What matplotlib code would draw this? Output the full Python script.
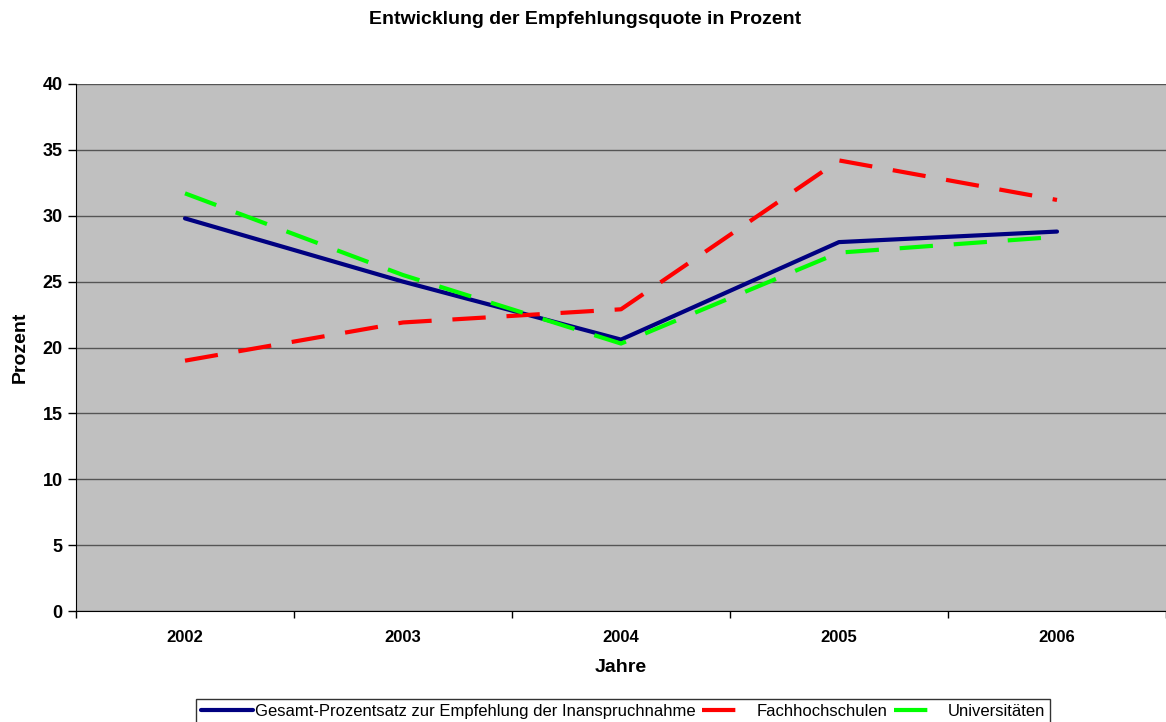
import numpy as np
import matplotlib.pyplot as plt

plt.rcParams['font.family'] = ['Liberation Sans', 'DejaVu Sans']

years = ["2002", "2003", "2004", "2005", "2006"]
gesamt = [29.8, 25.0, 20.6, 28.0, 28.8]
fachhochschulen = [19.0, 21.9, 22.9, 34.2, 31.2]
universitaeten = [31.7, 25.5, 20.3, 27.2, 28.4]

x = np.arange(len(years))

fig = plt.figure(figsize=(11.66, 7.22), dpi=100)
ax = fig.add_axes([76 / 1166, 1 - 611 / 722, 1 - 76 / 1166, (611 - 84) / 722])
ax.set_facecolor("#c0c0c0")

ax.plot(x, gesamt, color="#000080", lw=3, solid_capstyle="round",
        label="Gesamt-Prozentsatz zur Empfehlung der Inanspruchnahme")
ax.plot(x, fachhochschulen, color="#ff0000", lw=3, dashes=(8, 5),
        label="Fachhochschulen")
ax.plot(x, universitaeten, color="#00ff00", lw=3, dashes=(8, 5),
        label="Universitäten")

ax.set_xlim(-0.5, len(years) - 0.5)
ax.set_ylim(0, 40)
ax.set_yticks(range(0, 41, 5))
ax.yaxis.grid(True, color="#555555", lw=1)
ax.set_axisbelow(True)
ax.tick_params(axis="y", labelsize=13, length=6, width=1)
for lab in ax.get_yticklabels():
    lab.set_fontweight("bold")

ax.set_xticks(x)
ax.set_xticklabels(years, fontsize=12, fontweight="bold")
ax.set_xticks(np.arange(-0.5, len(years)), minor=True)
ax.tick_params(axis="x", which="major", length=0, pad=14)
ax.tick_params(axis="x", which="minor", length=5, width=1)

for s in ["top", "right"]:
    ax.spines[s].set_visible(False)
ax.spines["left"].set_color("black")
ax.spines["bottom"].set_color("black")

ax.set_xlabel("Jahre", fontsize=14, fontweight="bold", labelpad=10)
ax.set_ylabel("Prozent", fontsize=14, fontweight="bold", labelpad=10)
fig.text(585 / 1166, 1 - 20 / 722, "Entwicklung der Empfehlungsquote in Prozent",
         fontsize=14, fontweight="bold", ha="center", va="center")

leg = fig.legend(loc="lower center", bbox_to_anchor=(623 / 1166, -0.003), ncol=3,
                 fontsize=12, frameon=True, fancybox=False, edgecolor="black",
                 handlelength=3.15, handletextpad=0.1, columnspacing=0.4,
                 borderpad=0.3, borderaxespad=0)
leg.get_frame().set_linewidth(1)

fig.savefig("out.png", dpi=100)
